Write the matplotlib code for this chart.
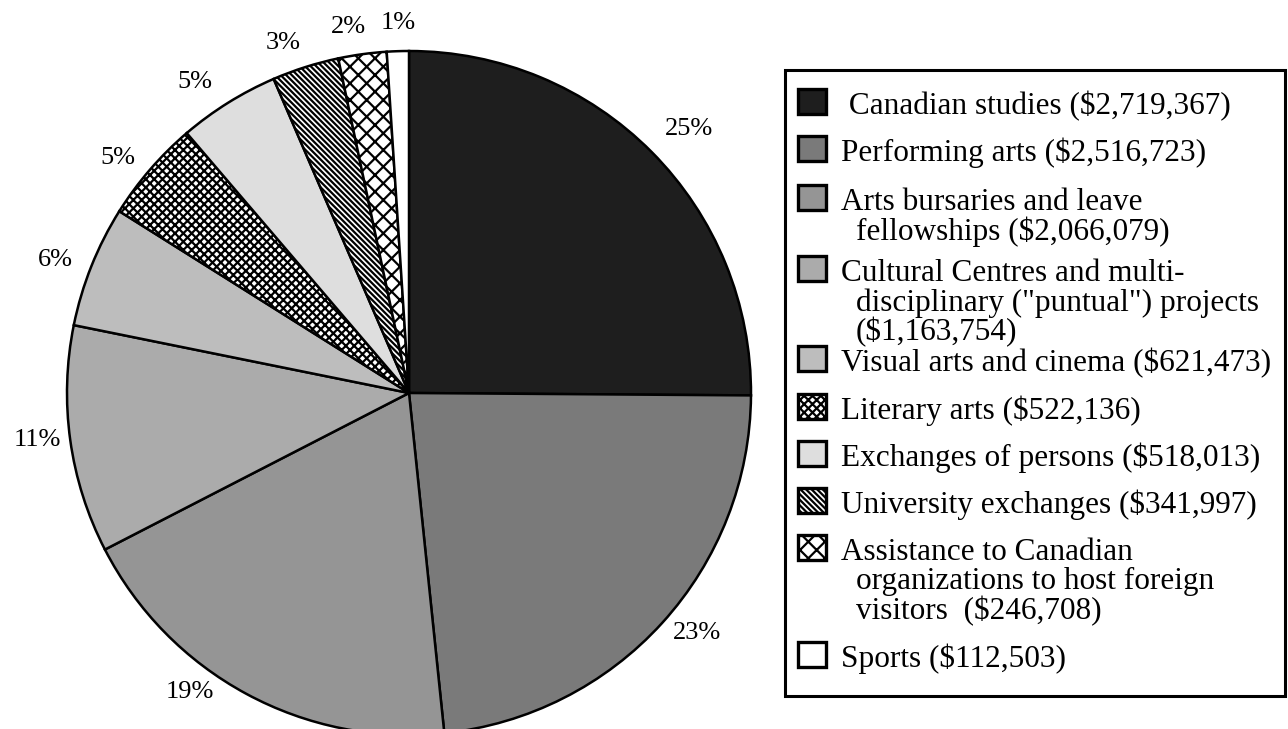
import numpy as np
import matplotlib.pyplot as plt
from matplotlib.patches import Rectangle

plt.rcParams["font.family"] = ["Liberation Serif", "DejaVu Serif"]
plt.rcParams["hatch.linewidth"] = 1.6

# budget by program, clockwise from 12 o'clock
programs = [
    " Canadian studies ($2,719,367)",
    "Performing arts ($2,516,723)",
    "Arts bursaries and leave\nfellowships ($2,066,079)",
    "Cultural Centres and multi-\ndisciplinary (\"puntual\") projects\n($1,163,754)",
    "Visual arts and cinema ($621,473)",
    "Literary arts ($522,136)",
    "Exchanges of persons ($518,013)",
    "University exchanges ($341,997)",
    "Assistance to Canadian\norganizations to host foreign\nvisitors  ($246,708)",
    "Sports ($112,503)",
]
amounts = [2719367, 2516723, 2066079, 1163754, 621473, 522136, 518013, 341997, 246708, 112503]

fills = ["#1e1e1e", "#7a7a7a", "#959595", "#ababab", "#bdbdbd",
         "white", "#dedede", "white", "white", "white"]
hatches = [None, None, None, None, None, "xxxx", None, "\\\\\\\\\\\\", "xx", None]

# label placement tweaks (radius in pie units, angle offset in degrees)
lab_r = [1.125, 1.096, 1.083, 1.094, 1.106, 1.094, 1.104, 1.087, 1.085, 1.082]
lab_shift = [-1.5, 2.4, -7.8, -0.7, 1.2, 1.9, 2.7, 2.2, 1.6, -0.2]

W, H = 1288, 729
fig = plt.figure(figsize=(W / 100, H / 100), dpi=100)

cx, cy, r = 409, 393, 342
ax = fig.add_axes([(cx - r) / W, (H - cy - r) / H, 2 * r / W, 2 * r / H])
wedges, texts, pcts = ax.pie(
    amounts,
    startangle=90,
    counterclock=False,
    colors=fills,
    autopct="%1.0f%%",
    pctdistance=1.1,
    wedgeprops=dict(edgecolor="black", linewidth=1.8),
    textprops=dict(fontsize=19),
)
for w, h, t, rr, sh in zip(wedges, hatches, pcts, lab_r, lab_shift):
    if h:
        w.set_hatch(h)
    ang = np.deg2rad((w.theta1 + w.theta2) / 2 + sh)
    t.set_position((rr * np.cos(ang), rr * np.sin(ang)))
    t.set_ha("center")
    t.set_va("center")
ax.set_xlim(-1, 1)
ax.set_ylim(-1, 1)
ax.axis("off")

# legend drawn by hand in pixel coordinates
lg = fig.add_axes([0, 0, 1, 1])
lg.set_xlim(0, W)
lg.set_ylim(H, 0)
lg.axis("off")
lg.add_patch(Rectangle((785, 70), 500, 626, facecolor="none", edgecolor="black", linewidth=2.2))

entry_y = [101, 148, 197, 268, 358, 406, 453, 500, 547, 654]
line_step = 29.5
for label, y0, fc, h in zip(programs, entry_y, fills, hatches):
    lg.add_patch(Rectangle((798, y0 - 12.5), 28, 25, facecolor=fc, edgecolor="black",
                           linewidth=2.4, hatch=h))
    for i, line in enumerate(label.split("\n")):
        x = 841 if i == 0 else 856
        lg.text(x, y0 + 2 + i * line_step + 11, line, fontsize=22.5, ha="left", va="baseline")

fig.savefig("out.png", dpi=100, facecolor="white")
